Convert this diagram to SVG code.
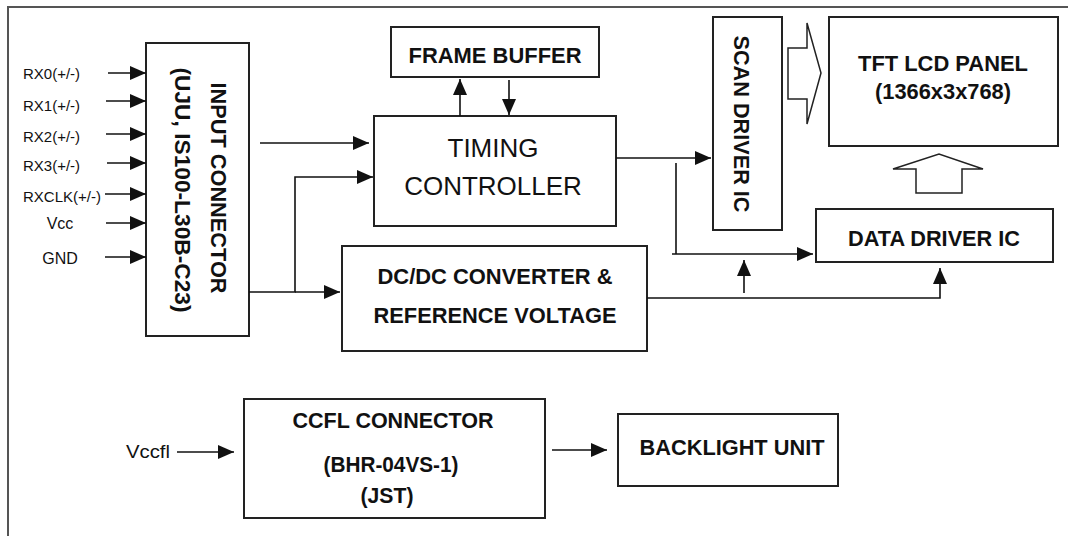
<svg xmlns="http://www.w3.org/2000/svg" width="1068" height="536" viewBox="0 0 1068 536">
<defs>
<style>
.box{fill:#fff;stroke:#222;stroke-width:2}
.ln{fill:none;stroke:#111;stroke-width:1.6}
.blk{fill:#fff;stroke:#222;stroke-width:1.5;stroke-linejoin:miter}
.frame{fill:none;stroke:#555;stroke-width:2}
text{font-family:"Liberation Sans",Arial,sans-serif;fill:#111}
.b{font-weight:bold;font-size:21.5px}
.lbl{font-size:15px}
.big{font-size:26px}
</style>
<marker id="ah" viewBox="0 0 16 14" markerWidth="16" markerHeight="14" refX="16" refY="7" orient="auto" markerUnits="userSpaceOnUse">
<path d="M0,0 L16,7 L0,14 z" fill="#111"/>
</marker>
</defs>
<rect width="1068" height="536" fill="#fff"/>
<path class="frame" d="M8,536 V7 H1068"/>

<g id="input-connector">
<rect class="box" x="146" y="43" width="103" height="293"/>
<text class="b" style="font-size:22px" text-anchor="middle" transform="translate(219,188) rotate(90)" y="7.9" textLength="211" lengthAdjust="spacingAndGlyphs">INPUT CONNECTOR</text>
<text class="b" style="font-size:22px" text-anchor="middle" transform="translate(183,190) rotate(90)" y="7.9" textLength="245" lengthAdjust="spacingAndGlyphs">(UJU, IS100-L30B-C23)</text>
</g>

<g id="input-labels">
<text class="lbl" x="23" y="79">RX0(+/-)</text>
<text class="lbl" x="23" y="111">RX1(+/-)</text>
<text class="lbl" x="23" y="142">RX2(+/-)</text>
<text class="lbl" x="23" y="171">RX3(+/-)</text>
<text class="lbl" x="23" y="202">RXCLK(+/-)</text>
<text class="lbl" style="font-size:16px" x="60" y="229" text-anchor="middle">Vcc</text>
<text class="lbl" style="font-size:16px" x="60" y="264" text-anchor="middle">GND</text>
</g>

<g id="frame-buffer">
<rect class="box" x="391" y="27" width="208" height="50"/>
<text class="b" x="495" y="63" text-anchor="middle" textLength="173" lengthAdjust="spacingAndGlyphs">FRAME BUFFER</text>
</g>

<g id="timing-controller">
<rect class="box" x="374" y="116" width="242" height="110"/>
<text class="big" x="493" y="157" text-anchor="middle">TIMING</text>
<text class="big" x="493" y="195" text-anchor="middle">CONTROLLER</text>
</g>

<g id="scan-driver">
<rect class="box" x="713" y="17" width="69" height="213"/>
<text class="b" text-anchor="middle" transform="translate(742,124) rotate(90)" y="7.7" textLength="177" lengthAdjust="spacingAndGlyphs">SCAN DRIVER IC</text>
</g>

<g id="tft-panel">
<rect class="box" x="829" y="17" width="229" height="129"/>
<text class="b" x="943" y="71" text-anchor="middle" textLength="170" lengthAdjust="spacingAndGlyphs">TFT LCD PANEL</text>
<text class="b" x="943" y="99" text-anchor="middle" textLength="136" lengthAdjust="spacingAndGlyphs">(1366x3x768)</text>
</g>

<g id="data-driver">
<rect class="box" x="816" y="209" width="237" height="53"/>
<text class="b" x="934" y="246" text-anchor="middle" textLength="172" lengthAdjust="spacingAndGlyphs">DATA DRIVER IC</text>
</g>

<g id="dcdc">
<rect class="box" x="342" y="246" width="305" height="105"/>
<text class="b" x="495" y="284" text-anchor="middle" textLength="235" lengthAdjust="spacingAndGlyphs">DC/DC CONVERTER &amp;</text>
<text class="b" x="495" y="323" text-anchor="middle" textLength="243" lengthAdjust="spacingAndGlyphs">REFERENCE VOLTAGE</text>
</g>

<g id="ccfl-connector">
<rect class="box" x="244" y="399" width="301" height="119"/>
<text class="b" x="393" y="428" text-anchor="middle" textLength="201" lengthAdjust="spacingAndGlyphs">CCFL CONNECTOR</text>
<text class="b" x="391" y="472" text-anchor="middle" textLength="135" lengthAdjust="spacingAndGlyphs">(BHR-04VS-1)</text>
<text class="b" x="387" y="503" text-anchor="middle" textLength="53" lengthAdjust="spacingAndGlyphs">(JST)</text>
</g>

<g id="vccfl-label">
<text style="font-size:18px" x="126" y="458" textLength="44" lengthAdjust="spacingAndGlyphs">Vccfl</text>
</g>

<g id="backlight">
<rect class="box" x="618" y="414" width="220" height="72"/>
<text class="b" x="732" y="455" text-anchor="middle" textLength="185" lengthAdjust="spacingAndGlyphs">BACKLIGHT UNIT</text>
</g>

<g id="connectors">
<path class="ln" marker-end="url(#ah)" d="M108,73 H146"/>
<path class="ln" marker-end="url(#ah)" d="M106,101 H146"/>
<path class="ln" marker-end="url(#ah)" d="M106,134 H146"/>
<path class="ln" marker-end="url(#ah)" d="M107,163 H146"/>
<path class="ln" marker-end="url(#ah)" d="M105,194 H146"/>
<path class="ln" marker-end="url(#ah)" d="M106,223 H146"/>
<path class="ln" marker-end="url(#ah)" d="M105,257 H146"/>
<path class="ln" marker-end="url(#ah)" d="M260,143 H369"/>
<path class="ln" marker-end="url(#ah)" d="M249,292 H295 V177 H373"/>
<path class="ln" marker-end="url(#ah)" d="M295,292 H340"/>
<path class="ln" marker-end="url(#ah)" d="M460,116 V79"/>
<path class="ln" marker-end="url(#ah)" d="M509,80 V115"/>
<path class="ln" marker-end="url(#ah)" d="M616,158 H711"/>
<path class="ln" d="M676,163 V254"/>
<path class="ln" marker-end="url(#ah)" d="M672,254 H813"/>
<path class="ln" marker-end="url(#ah)" d="M647,298 H940 V268"/>
<path class="ln" marker-end="url(#ah)" d="M744,293 V260"/>
<path class="ln" marker-end="url(#ah)" d="M177,452 H234"/>
<path class="ln" marker-end="url(#ah)" d="M552,450 H607"/>
<polygon class="blk" points="788,48 807,48 807,23 821,73 807,124 807,99 788,99"/>
<polygon class="blk" points="916,193 962,193 962,169 983,169 939,154 893,169 916,169"/>
</g>
</svg>
